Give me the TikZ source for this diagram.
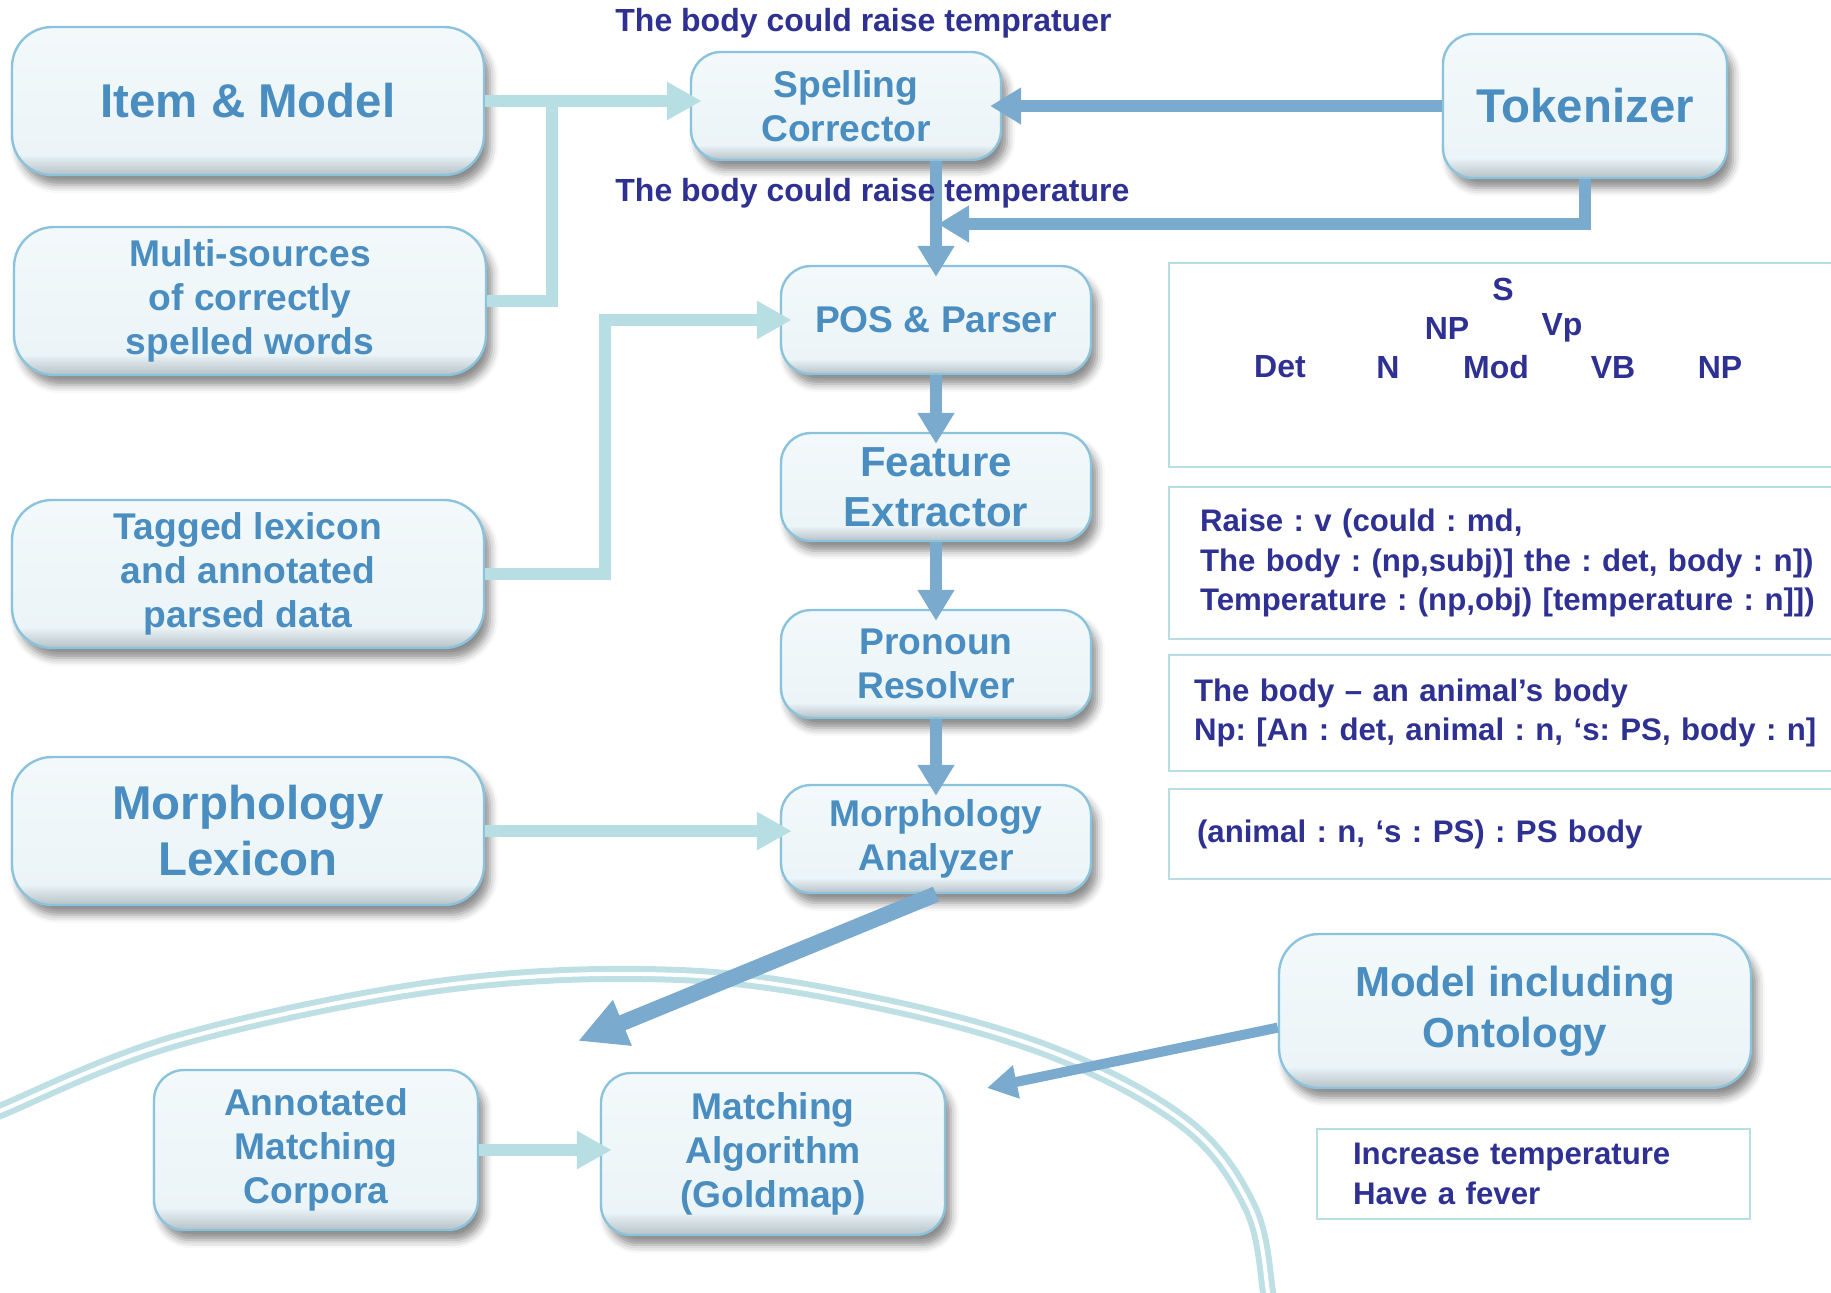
\documentclass[tikz,border=0pt]{standalone}
\usepackage{fontspec}
\setmainfont{Liberation Sans}
\usetikzlibrary{arrows.meta,shadows.blur}
\frenchspacing

\definecolor{boxtext}{HTML}{4A8DC0}
\definecolor{labtext}{HTML}{2E3192}
\definecolor{boxline}{HTML}{8CC3DC}
\definecolor{lightc}{HTML}{B7DEE2}
\definecolor{darkc}{HTML}{7AAACD}
\definecolor{ringc}{HTML}{BEE0E4}
\definecolor{boxtop}{HTML}{F3F9FB}
\definecolor{boxfill}{HTML}{EBF4F7}
\definecolor{bevel}{HTML}{B5C2C7}

\pgfdeclareverticalshading{boxshade}{100bp}{color(0bp)=(bevel); color(25bp)=(bevel);
  color(32bp)=(boxfill); color(75bp)=(boxtop); color(100bp)=(boxtop)}

\begin{document}
\begin{tikzpicture}[
  x=0.5pt, y=-0.5pt,
  box/.style={draw=boxline, line width=1.2pt, shading=boxshade, rounded corners=15pt,
              align=center, inner sep=2pt, text=boxtext,
              font=\bfseries\fontsize{18.6}{22}\selectfont,
              blur shadow={shadow xshift=3pt, shadow yshift=-5pt,
                           shadow blur radius=4pt, shadow opacity=45}},
  wide/.style={box, minimum width=236pt, minimum height=74pt, rounded corners=20pt},
  narrow/.style={box, minimum width=155pt, minimum height=54pt},
  big/.style={font=\bfseries\fontsize{23.7}{28}\selectfont},
  mid/.style={font=\bfseries\fontsize{21}{25}\selectfont},
  lab/.style={text=labtext, font=\bfseries\fontsize{16}{20}\selectfont, align=left,
              inner sep=1pt},
  note/.style={lab, draw=lightc, line width=1pt, anchor=north west, inner ysep=0pt,
               font=\bfseries\fontsize{15.6}{19.8}\selectfont},
  arc/.style={draw=ringc, line width=3pt, double=white, double distance=2pt},
  feedline/.style={draw=lightc, line width=6pt},
  feed/.style={feedline, -{Triangle[length=17.5pt, width=18pt]}, shorten >=-6pt},
  flow/.style={draw=darkc, line width=6pt, -{Triangle[length=15.5pt, width=17.5pt]},
               shorten >=-6pt}
]
\useasboundingbox (0,0) rectangle (1831,1292);
\clip (0,0) rectangle (1831,1292);

% ── the matching ring ────────────────────────────────────────────────
\draw[arc] plot[smooth, tension=0.6] coordinates {(-30,1126) (0,1111) (179,1040)
  (446,985) (680,975) (873,1002) (1052,1052) (1186,1124) (1250,1207) (1268,1292)
  (1270,1330)};

% ── resources (left) ─────────────────────────────────────────────────
\node[wide, big] (item)     at (248,101) {Item \& Model};
\node[wide]      (multi)    at (250,301) {Multi-sources\\of correctly\\spelled words};
\node[wide]      (tagged)   at (248,574) {Tagged lexicon\\and annotated\\parsed data};
\node[wide, big] (morphlex) at (248,831) {Morphology\\Lexicon};

% ── the pipeline ─────────────────────────────────────────────────────
\node[narrow] (spell)         at (846,106) {Spelling\\Corrector};
\node[box, big, minimum width=142pt, minimum height=72pt]
              (tok)           at (1585,106) {Tokenizer};
\node[narrow] (pos)           at (936,320) {POS \& Parser};
\node[narrow, mid] (feat)     at (936,487) {Feature\\Extractor};
\node[narrow] (pron)          at (936,664) {Pronoun\\Resolver};
\node[narrow] (morphan)       at (936,839) {Morphology\\Analyzer};

% ── matching ─────────────────────────────────────────────────────────
\node[wide, mid, minimum height=77pt, font=\bfseries\fontsize{21}{25.7}\selectfont]
              (onto)  at (1515,1011) {Model including\\Ontology};
\node[box, minimum width=162pt, minimum height=80pt]
              (annot) at (316,1150) {Annotated\\Matching\\Corpora};
\node[box, minimum width=172pt, minimum height=81pt]
              (match) at (773,1154) {Matching\\Algorithm\\(Goldmap)};

% ── outputs (right) ──────────────────────────────────────────────────
\node[note, minimum width=340pt, minimum height=102pt] (tree) at (1168,262) {};
\node[lab] (tS)   at (1503,289) {S};
\node[lab] (tNP)  at (1447,328) {NP};
\node[lab] (tVp)  at (1562,328) {Vp};
\node[lab] (tDet) at (1280,367) {Det};
\node[lab] (tN)   at (1388,367) {N};
\node[lab] (tMod) at (1496,367) {Mod};
\node[lab] (tVB)  at (1613,367) {VB};
\node[lab] (tNP2) at (1720,367) {NP};

\node[note, text width=330pt, inner xsep=15.5pt, minimum height=76pt] (parse)
      at (1168,486) {Raise : v (could : md,\\The body : (np,subj)] the : det, body : n])\\
                     Temperature : (np,obj) [temperature : n]])};
\node[note, text width=330pt, inner xsep=12.5pt, minimum height=58pt] (resolve)
      at (1168,654) {The body -- an animal’s body\\Np: [An : det, animal : n, ‘s: PS, body : n]};
\node[note, text width=330pt, inner xsep=14pt, minimum height=45pt] (morphout)
      at (1168,788) {(animal : n, ‘s : PS) : PS body};
\node[note, text width=180.5pt, inner xsep=18pt, minimum height=45pt] (fever)
      at (1316,1128) {Increase temperature\\Have a fever};

% ── resource feeds ───────────────────────────────────────────────────
\coordinate (join) at (552,101);
\draw[feed] (item.east) -- (item.east -| spell.west);
\draw[feedline] (multi.east) -| (join);
\draw[feed] (tagged.east) -- ++(120,0) |- (pos.west);
\draw[feed] (morphlex.east) -- (morphlex.east -| morphan.west);
\draw[feed] (annot.east) -- (annot.east -| match.west);

% ── pipeline flow ────────────────────────────────────────────────────
\coordinate (merge) at (938,224);
\coordinate (mtip)  at (578,1041);
\coordinate (otip)  at (987,1088);
\draw[flow] (tok.west) -- (tok.west -| spell.east);
\draw[flow, shorten >=0pt] (tok.south) |- (merge);
\draw[flow] (pos.north |- spell.south) -- (pos.north);
\draw[flow] (pos) -- (feat);
\draw[flow] (feat) -- (pron);
\draw[flow] (pron) -- (morphan);
\draw[flow, line width=8pt, -{Triangle[length=24pt, width=23pt]}, shorten >=0pt]
      (morphan.south) -- (mtip);
\draw[flow, line width=5pt, -{Triangle[length=15pt, width=16pt]}, shorten >=0pt]
      (onto.184) -- (otip);

% ── the sentence, before and after ───────────────────────────────────
\node[lab, anchor=west] (typo)  at (613,23)  {The body could raise tempratuer};
\node[lab, anchor=west] (fixed) at (613,193) {The body could raise temperature};

\end{tikzpicture}
\end{document}
